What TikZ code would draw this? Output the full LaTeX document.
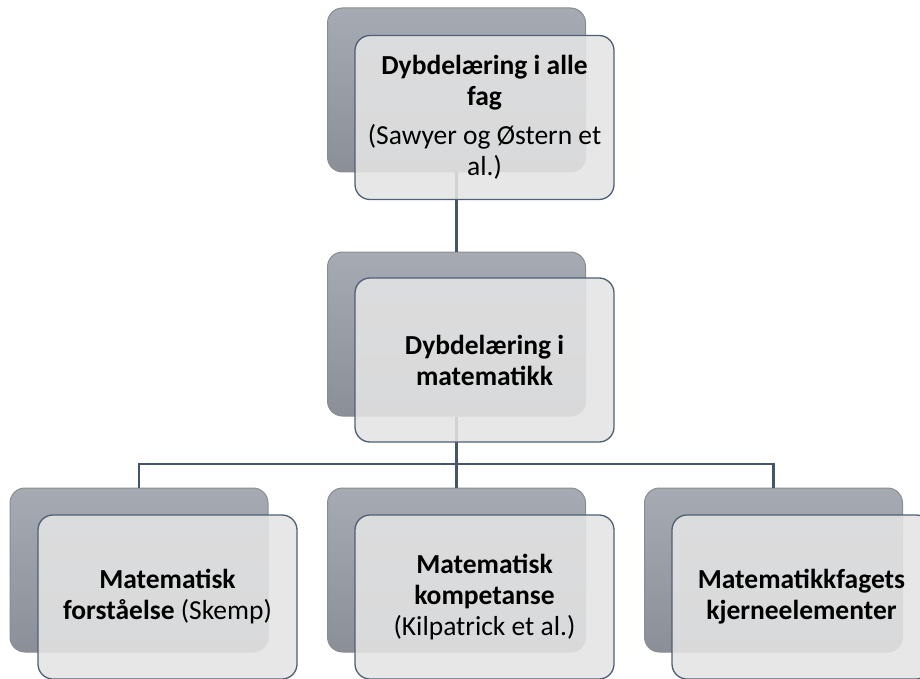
\documentclass[tikz,border=0pt]{standalone}
\usepackage{fontspec}
\setmainfont{Carlito}
\usetikzlibrary{positioning}

\definecolor{backtop}{HTML}{A6ABB3}
\definecolor{backbot}{HTML}{8A8F98}
\definecolor{backline}{HTML}{8C8C8C}
\definecolor{frontfill}{HTML}{E4E4E4}
\definecolor{frontline}{HTML}{4E5F76}
\definecolor{linkcol}{HTML}{44546A}

\tikzset{
  backbox/.style={draw=backline, line width=1pt, rounded corners=15pt,
    top color=backtop, bottom color=backbot,
    minimum width=258pt, minimum height=164pt, inner sep=0pt},
  frontbox/.style={draw=frontline, line width=1.3pt, rounded corners=15pt,
    fill=frontfill, fill opacity=0.88, text opacity=1,
    minimum width=259pt, minimum height=164pt, inner sep=0pt,
    align=center, font=\fontsize{27.5}{31}\selectfont},
  link/.style={draw=linkcol, line width=2.5pt}
}

\begin{document}
\begin{tikzpicture}[x=1pt, y=-1pt]

\useasboundingbox (0,0) rectangle (920,679);

%Draw back boxes
\node[backbox] (alleB) at (456.5, 90) {};
\node[backbox] (matB) at (456.5, 334) {};
\node[backbox] (forstB) at (139, 570) {};
\node[backbox] (kompB) at (456.5, 570) {};
\node[backbox] (kjerneB) at (773.5, 570) {};

%Draw connectors
\coordinate (fork) at (456.5, 464);

\draw[link] (alleB.south) -- (matB.north);
\draw[link] (matB.south) -- (fork) -- (kompB.north);
\draw[link] (fork) -| (forstB.north);
\draw[link] (fork) -| (kjerneB.north);

%Draw front boxes
\node[frontbox] (alle) at (484.5, 117.5)
  {\textbf{Dybdelæring i alle}\\\textbf{fag}\\[8pt](Sawyer og Østern et\\al.)};
\node[frontbox] (mat) at (484.5, 360)
  {\textbf{Dybdelæring i}\\\textbf{matematikk}};
\node[frontbox] (forst) at (167.5, 597)
  {\textbf{Matematisk}\\\textbf{forståelse} (Skemp)};
\node[frontbox] (komp) at (484.5, 597)
  {\textbf{Matematisk}\\\textbf{kompetanse}\\(Kilpatrick et al.)};
\node[frontbox] (kjerne) at (801.5, 597)
  {\textbf{Matematikkfagets}\\\textbf{kjerneelementer}};

\end{tikzpicture}
\end{document}
